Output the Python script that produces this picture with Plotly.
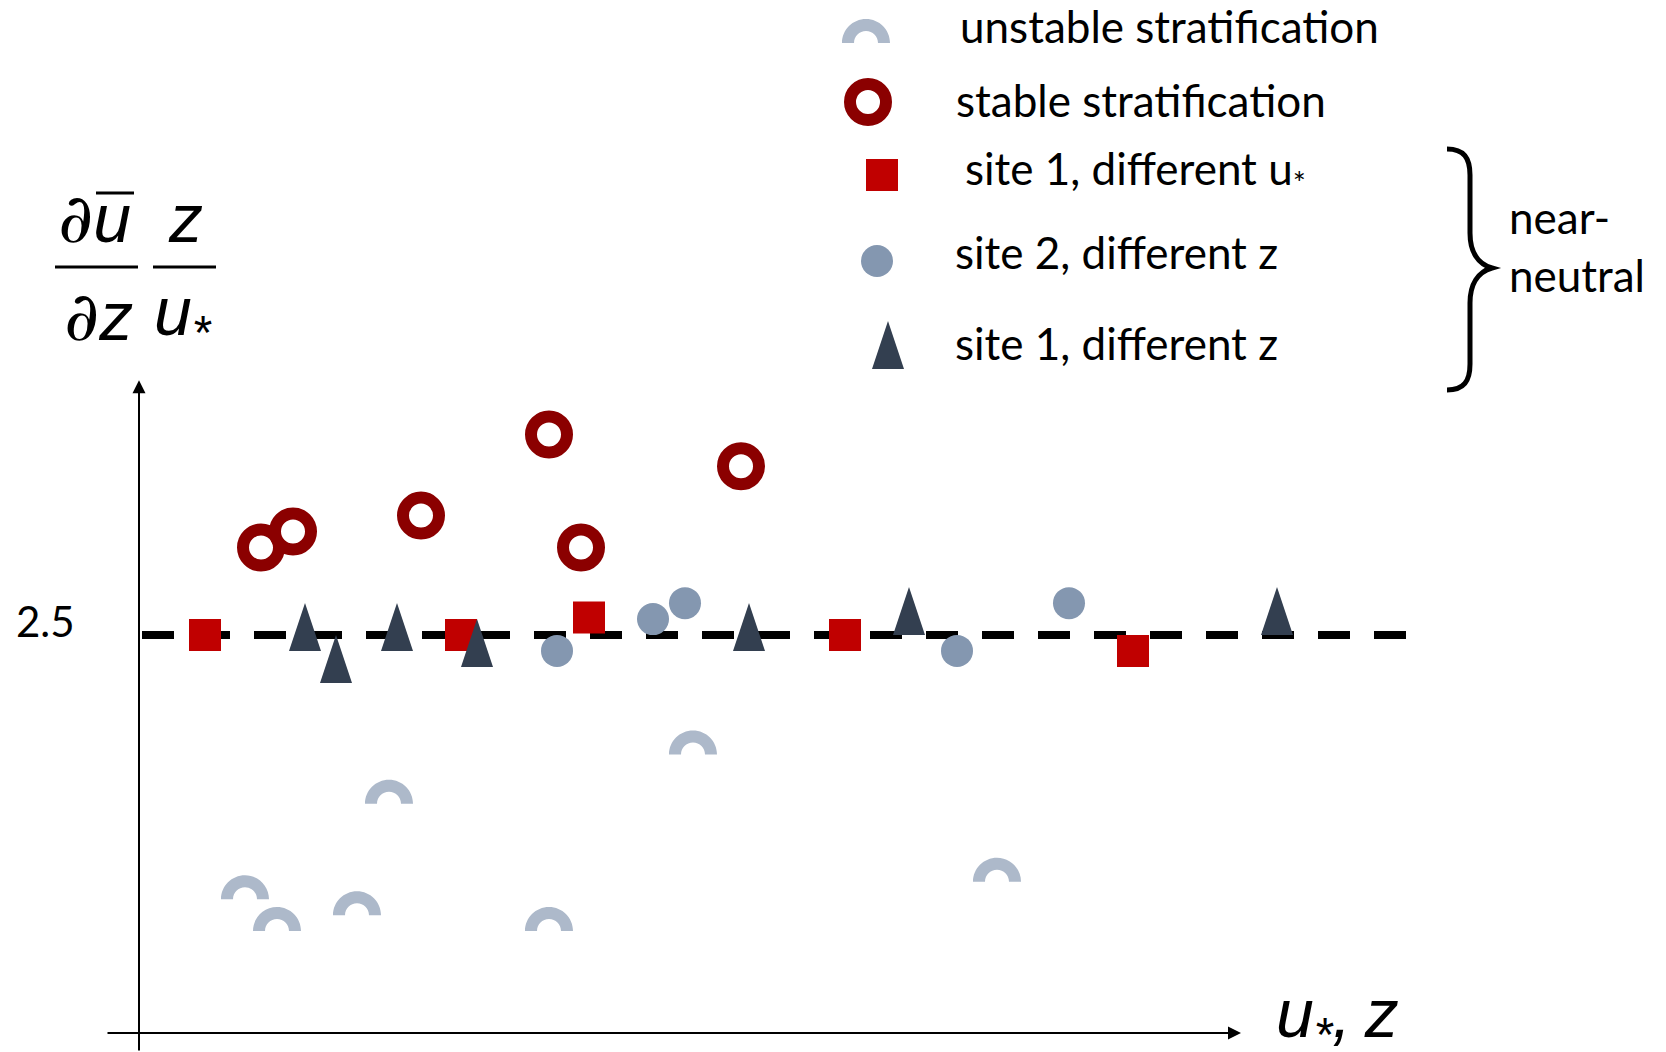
import plotly.graph_objects as go

W, H = 1666, 1052

# ---------------- data (dimensionless) ----------------
REF_LEVEL = 2.5                      # neutral value of the dimensionless gradient
ref_line_x = [0.03, 12.67]           # extent of the dashed reference line

unstable_x = [1.06, 1.38, 2.18, 2.50, 4.10, 5.54, 8.58]
unstable_y = [0.84, 0.64, 0.74, 1.44, 0.64, 1.75, 0.95]

stable_x = [1.22, 1.54, 2.82, 4.10, 4.42, 6.02]
stable_y = [3.05, 3.15, 3.25, 3.76, 3.05, 3.56]

site1_ustar_x = [0.66, 3.22, 4.50, 7.06, 9.94]
site1_ustar_y = [2.50, 2.50, 2.61, 2.50, 2.40]

site2_z_x = [4.18, 5.14, 5.46, 8.18, 9.30]
site2_z_y = [2.40, 2.60, 2.70, 2.40, 2.70]

site1_z_x = [1.66, 1.97, 2.58, 3.38, 6.10, 7.70, 11.38]
site1_z_y = [2.55, 2.35, 2.55, 2.45, 2.55, 2.65, 2.65]

y_tick_vals = [REF_LEVEL]
y_tick_text = ["2.5"]

legend_labels = [
    "unstable stratification",
    "stable stratification",
    "site 1, different u<sub>*</sub>",
    "site 2, different z",
    "site 1, different z",
]
group_label = ["near-", "neutral"]

# ---------------- styles ----------------
C_UNSTABLE = "#ADB9CA"
C_STABLE = "#8B0000"
C_SQUARE = "#C00000"
C_SITE2 = "#8497B0"
C_TRI = "#333F50"

X_RANGE = [-1.39, 15.27]
Y_RANGE = [-0.1194, 6.4887]

LEG_FONT = dict(family="Lato", size=44, color="black")
MATH_FONT = dict(family="Liberation Sans", size=68, color="black")


def P(px, py):
    return px / W, 1 - py / H


ARCH_PATH = ("M -24,0 C -24,13.25 -13.25,24 0,24 C 13.25,24 24,13.25 24,0 "
             "L 12,0 C 12,6.63 6.63,12 0,12 C -6.63,12 -12,6.63 -12,0 Z")
TRI_PATH = "M -16,-24 L 16,-24 L 0,24 Z"

fig = go.Figure()

# dashed reference line
fig.add_trace(go.Scatter(x=ref_line_x, y=[REF_LEVEL, REF_LEVEL], mode="lines",
                         line=dict(color="black", width=8, dash="32px,24px"),
                         hoverinfo="skip", showlegend=False))
# site 2, different z
fig.add_trace(go.Scatter(x=site2_z_x, y=site2_z_y, mode="markers", name="site 2, different z",
                         marker=dict(symbol="circle", size=32, color=C_SITE2, line=dict(width=0)),
                         showlegend=False))
# site 1, different u*
fig.add_trace(go.Scatter(x=site1_ustar_x, y=site1_ustar_y, mode="markers", name="site 1, different u*",
                         marker=dict(symbol="square", size=32, color=C_SQUARE, line=dict(width=0)),
                         showlegend=False))
# stable stratification
fig.add_trace(go.Scatter(x=stable_x, y=stable_y, mode="markers", name="stable stratification",
                         marker=dict(symbol="circle", size=36, color="white",
                                     line=dict(width=12, color=C_STABLE)),
                         showlegend=False))

shapes = []
# unstable stratification: half rings anchored at data points
for xv, yv in zip(unstable_x, unstable_y):
    shapes.append(dict(type="path", xref="x", yref="y", xsizemode="pixel", ysizemode="pixel",
                       xanchor=xv, yanchor=yv, path=ARCH_PATH, fillcolor=C_UNSTABLE,
                       line=dict(width=0), layer="above"))
# site 1, different z: tall triangles anchored at data points
for xv, yv in zip(site1_z_x, site1_z_y):
    shapes.append(dict(type="path", xref="x", yref="y", xsizemode="pixel", ysizemode="pixel",
                       xanchor=xv, yanchor=yv, path=TRI_PATH, fillcolor=C_TRI,
                       line=dict(width=0), layer="above"))


# ---------------- legend symbols ----------------
def anchored(px, py, **kw):
    ax, ay = P(px, py)
    d = dict(xref="paper", yref="paper", xsizemode="pixel", ysizemode="pixel",
             xanchor=ax, yanchor=ay, layer="above")
    d.update(kw)
    return d


shapes.append(anchored(866, 43, type="path", path=ARCH_PATH, fillcolor=C_UNSTABLE, line=dict(width=0)))
shapes.append(anchored(868, 102, type="circle", x0=-18, x1=18, y0=-18, y1=18,
                       fillcolor="white", line=dict(width=12, color=C_STABLE)))
shapes.append(anchored(882, 175, type="rect", x0=-16, x1=16, y0=-16, y1=16,
                       fillcolor=C_SQUARE, line=dict(width=0)))
shapes.append(anchored(877, 261, type="circle", x0=-16, x1=16, y0=-16, y1=16,
                       fillcolor=C_SITE2, line=dict(width=0)))
shapes.append(anchored(888, 345, type="path", path=TRI_PATH, fillcolor=C_TRI, line=dict(width=0)))

# brace
shapes.append(anchored(1470, 268, type="path",
                       path=("M -23,119 C -6,119 0,110 0,93 L 0,35 C 0,16 8,4 22,0 "
                             "C 8,-4 0,-16 0,-35 L 0,-96 C 0,-113 -6,-122 -23,-122"),
                       fillcolor="rgba(0,0,0,0)", line=dict(width=5, color="black")))

# fraction bars and overline of the y label
for (x0, x1, yy, w) in [(55, 138, 267, 3), (153, 216, 267, 3), (96, 134, 193, 3)]:
    a0 = P(x0, yy)
    a1 = P(x1, yy)
    shapes.append(dict(type="line", xref="paper", yref="paper", x0=a0[0], x1=a1[0],
                       y0=a0[1], y1=a1[1], line=dict(width=w, color="black"), layer="above"))

annotations = []
# axes arrows
annotations.append(dict(x=0, y=4.10, ax=0, ay=Y_RANGE[0], xref="x", yref="y", axref="x", ayref="y",
                        text="", showarrow=True, arrowhead=2, arrowsize=1.3, arrowwidth=2,
                        arrowcolor="black", standoff=0, startstandoff=0))
annotations.append(dict(x=11.02, y=0, ax=-0.33, ay=0, xref="x", yref="y", axref="x", ayref="y",
                        text="", showarrow=True, arrowhead=2, arrowsize=1.3, arrowwidth=2,
                        arrowcolor="black", standoff=0, startstandoff=0))

# legend texts
leg_pos = [(958, 26), (954, 100), (963, 171), (953, 252), (953, 343)]
for lab, (px, py) in zip(legend_labels, leg_pos):
    ax, ay = P(px, py)
    annotations.append(dict(x=ax, y=ay, xref="paper", yref="paper", text=lab, showarrow=False,
                            xanchor="left", yanchor="middle", font=LEG_FONT))
for lab, (px, py) in zip(group_label, [(1507, 217), (1507, 275)]):
    ax, ay = P(px, py)
    annotations.append(dict(x=ax, y=ay, xref="paper", yref="paper", text=lab, showarrow=False,
                            xanchor="left", yanchor="middle", font=LEG_FONT))

DEL = "<span style='font-family:DejaVu Serif'>∂</span>"
math_texts = [
    (DEL + "u", 56, 218, "middle"),
    ("z", 166, 218, "middle"),
    (DEL + "z", 62, 316, "middle"),
    ("u<sub>*</sub>", 152, 316, "middle"),
    ("u<sub>*</sub>,\u2009z", 1274, 1063, "bottom"),
]
for txt, px, py, ya in math_texts:
    ax, ay = P(px, py)
    annotations.append(dict(x=ax, y=ay, xref="paper", yref="paper", text="<i>" + txt + "</i>",
                            showarrow=False, xanchor="left", yanchor=ya, font=MATH_FONT))

fig.update_layout(
    width=W, height=H, autosize=False,
    margin=dict(l=0, r=0, t=0, b=0, pad=0),
    paper_bgcolor="white", plot_bgcolor="white",
    showlegend=False,
    xaxis=dict(range=X_RANGE, domain=[0, 1], showgrid=False, zeroline=False, showline=False,
               showticklabels=False, ticks="", fixedrange=True),
    yaxis=dict(range=Y_RANGE, domain=[0, 1], showgrid=False, zeroline=False, showline=False,
               tickvals=y_tick_vals, ticktext=y_tick_text, ticks="",
               ticklabelposition="inside", ticklabelstandoff=13, ticklabelshift=-13,
               tickfont=dict(family="Lato", size=42, color="black"), fixedrange=True),
    shapes=shapes,
    annotations=annotations,
)

fig.write_html("out.html")
